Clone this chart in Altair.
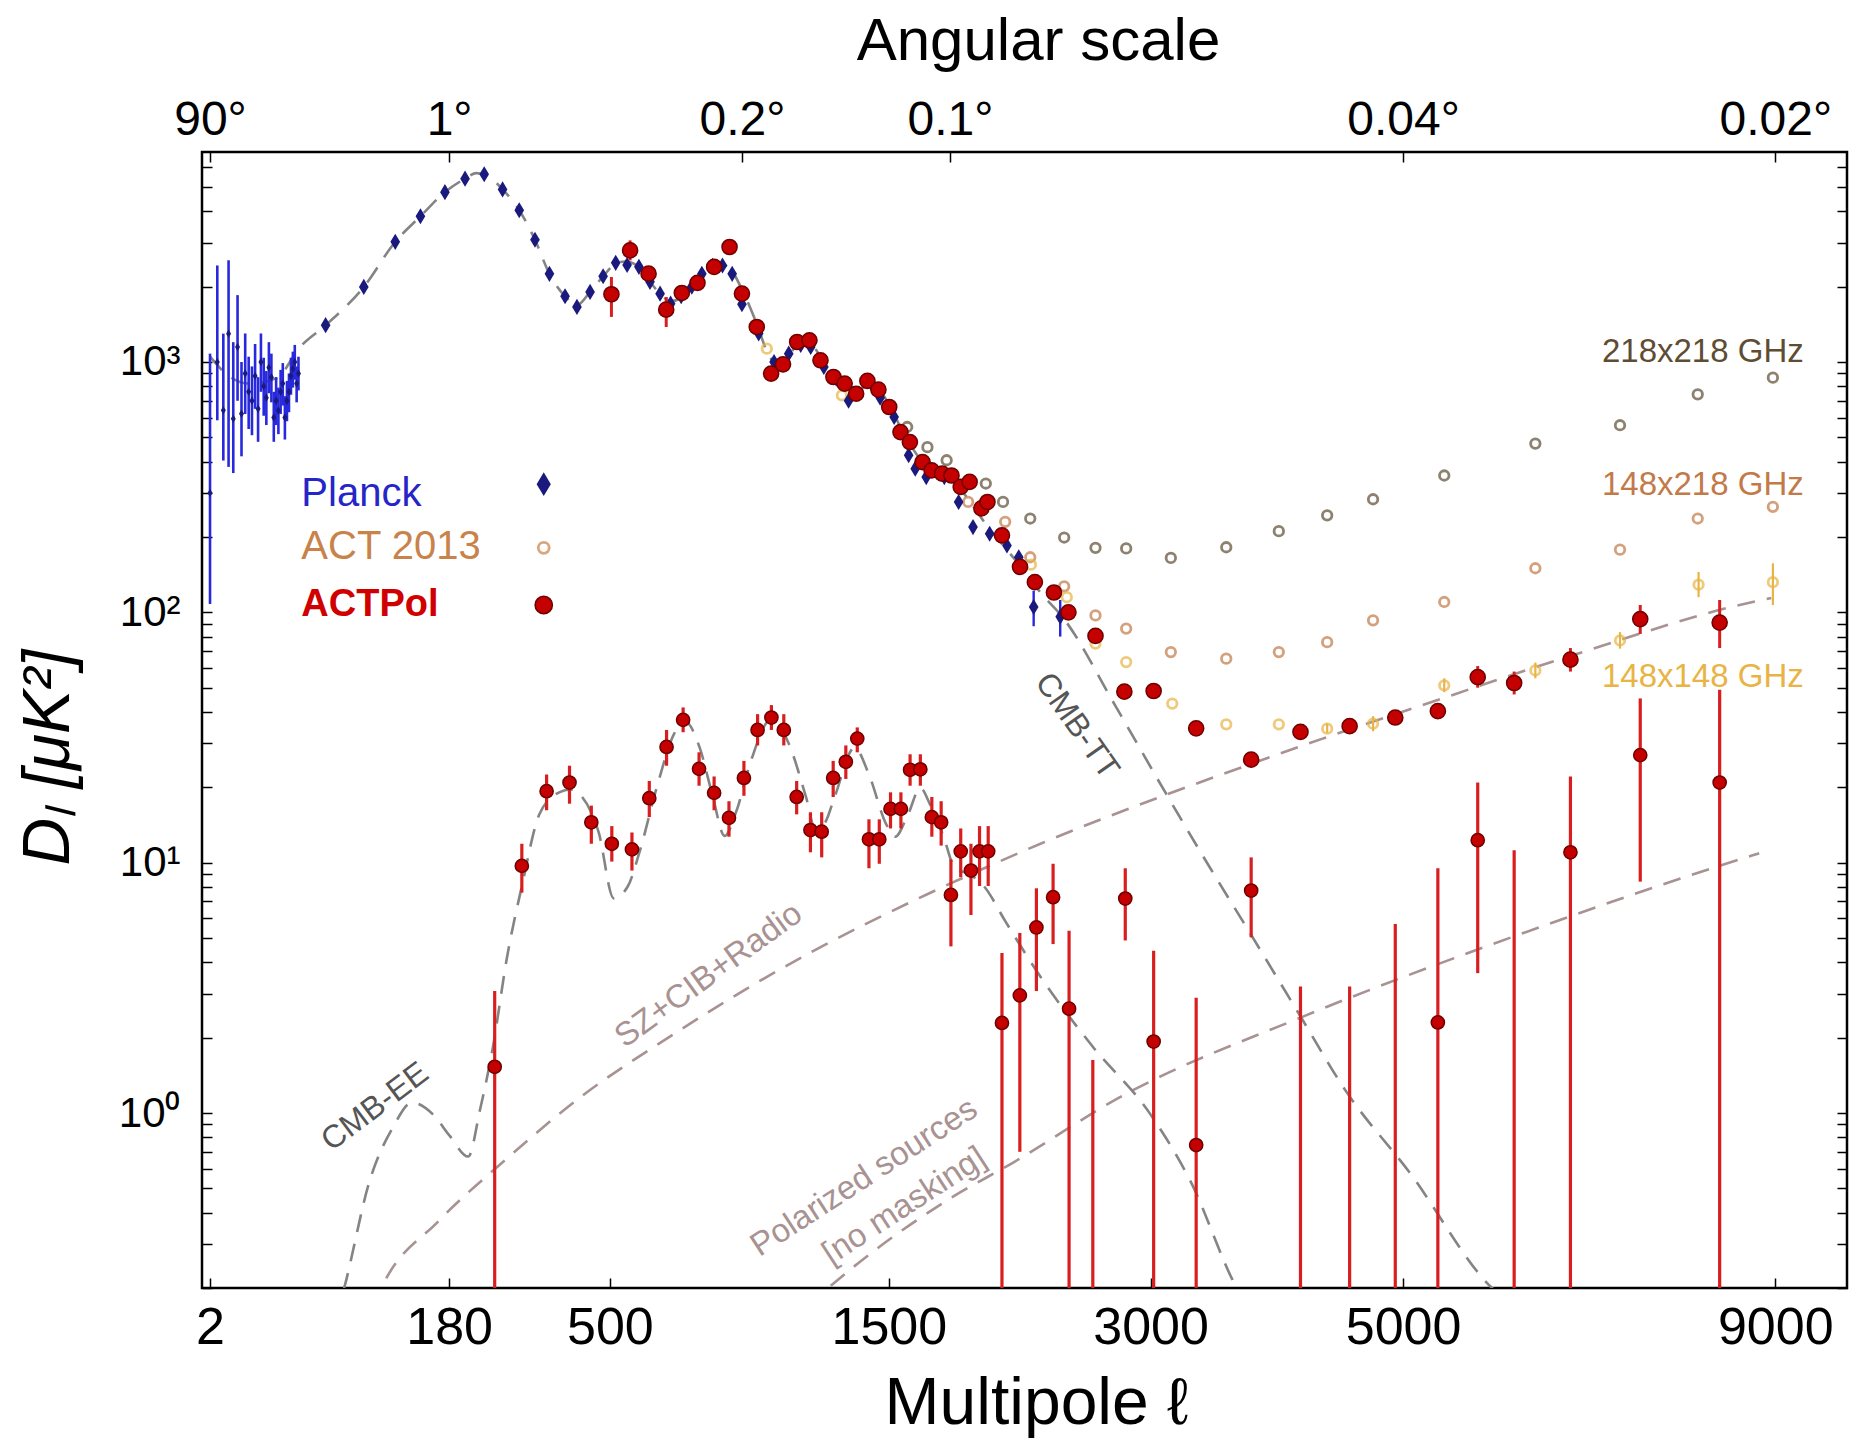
import altair as alt
import pandas as pd

# ---------------- data ----------------
# Planck unbinned low-ell TT
planck_low_ell = list(range(2, 32))
planck_low_D = [300, 1000, 641, 1298, 594, 1148, 621, 900, 760, 700, 880, 650, 1000, 800, 720,
                950, 870, 600, 700, 640, 760, 820, 600, 700, 760, 880, 940, 1000, 820, 900]
planck_low_lo = [108, 585, 404, 381, 360, 700, 420, 620, 540, 510, 650, 480, 760, 610, 560,
                 750, 690, 480, 560, 515, 620, 670, 490, 580, 630, 740, 790, 850, 690, 770]
planck_low_hi = [1080, 2430, 1298, 2549, 1200, 1850, 1000, 1300, 1050, 960, 1180, 870, 1300, 1040, 920,
                 1200, 1080, 760, 870, 790, 930, 990, 730, 840, 900, 1040, 1100, 1170, 960, 1050]

# Planck binned TT
planck_ell = [48, 79, 111, 141, 174, 204, 235, 267, 298, 329, 359, 393, 420, 451, 483, 515, 545, 577, 608, 637,
              668, 700, 733, 765, 800, 833, 866, 900, 960, 1017, 1073, 1120, 1160, 1214, 1266, 1319, 1364, 1420,
              1460, 1525, 1594, 1626, 1680, 1771, 1845, 1921, 2011, 2107, 2174, 2260, 2418]
planck_D = [1403, 1995, 3020, 3820, 4770, 5400, 5620, 4890, 4040, 3080, 2250, 1830, 1660, 1905, 2200, 2490, 2440,
            2400, 2090, 1875, 1710, 1830, 2000, 2250, 2420, 2430, 2250, 1700, 1300, 1000, 1080, 1170, 1148, 955,
            858, 700, 747, 820, 720, 603, 424, 375, 347, 347, 276, 219, 206, 185, 166, 105, 96]
planck_err_ell = [2260, 2418]
planck_err_lo = [88, 80]
planck_err_hi = [122, 112]

# ACT 2013 spectra
act218_ell = [1587, 1686, 1783, 1990, 2085, 2240, 2442, 2637, 2836, 3140, 3541, 3946, 4340, 4733, 5380, 6275,
              7175, 8060, 8970]
act218_D = [550, 457, 405, 327, 276, 237, 199, 181, 180, 165, 182, 211, 244, 283, 352, 472, 559, 743, 866]
act148x218_ell = [1895, 2097, 2240, 2442, 2637, 2836, 3140, 3541, 3946, 4340, 4733, 5380, 6275, 7175, 8060, 8970]
act148x218_D = [276, 230, 166, 127, 97.2, 86.1, 69.4, 65.3, 69.4, 76.0, 92.9, 110, 150, 178, 237, 264]
act148_ell = [990, 1290, 2244, 2458, 2637, 2836, 3150, 3541, 3946, 4340, 4733, 5380, 6275, 7175, 8070, 8970]
act148_D = [1130, 736, 155, 115, 75, 63.3, 43.2, 35.7, 35.7, 34.3, 35.9, 51.1, 58.6, 77.2, 129, 132]
act148_lo = [1130, 736, 155, 115, 75, 63.3, 43.2, 35.7, 35.7, 33, 33.5, 48, 54.5, 71.6, 115, 107]
act148_hi = [1130, 736, 155, 115, 75, 63.3, 43.2, 35.7, 35.7, 36, 38.5, 54.5, 63, 83.4, 145, 157]

# ACTPol TT
actpol_tt_ell = [504, 553, 604, 655, 702, 751, 805, 857, 900, 953, 1006, 1051, 1106, 1155, 1200, 1254, 1302, 1352,
                 1402, 1452, 1502, 1555, 1600, 1662, 1707, 1760, 1808, 1856, 1903, 1966, 1999, 2079, 2181, 2267,
                 2380, 2468, 2637, 2824, 3021, 3320, 3730, 4120, 4530, 4930, 5320, 5700, 6060, 6640, 7400, 8320]
actpol_tt_D = [1865, 2790, 2254, 1618, 1887, 2069, 2397, 2880, 1876, 1380, 899, 979, 1202, 1221, 1016, 871, 820,
               747, 840, 776, 661, 525, 479, 398, 369, 358, 352, 317, 332, 260, 276, 203, 152, 132, 120, 100, 80.5,
               48.2, 48.5, 34.4, 25.8, 33.3, 35.1, 38.0, 40.3, 55.1, 52.2, 64.7, 94, 91]
actpol_tt_lo = [1514, 2547, 2140, 1380, 1790, 1970, 2290, 2750, 1790, 1310, 850, 930, 1150, 1170, 970, 830, 780,
                710, 800, 740, 630, 500, 455, 378, 350, 340, 334, 300, 315, 247, 262, 193, 144, 125, 114, 95, 76,
                45.5, 45.8, 32.3, 24.2, 31.2, 32.8, 35.6, 37.6, 50, 47, 58, 82, 72]
actpol_tt_hi = [2185, 3060, 2370, 1818, 1990, 2170, 2510, 3010, 1960, 1450, 950, 1030, 1255, 1275, 1065, 912, 860,
                785, 880, 815, 692, 550, 503, 418, 388, 376, 370, 334, 349, 273, 290, 213, 160, 139, 126, 105, 85,
                51, 51.2, 36.6, 27.5, 35.5, 37.5, 40.5, 43.1, 61, 58, 72, 107, 112]

# ACTPol EE
actpol_ee_ell = [253, 303, 353, 403, 454, 505, 558, 606, 656, 706, 756, 805, 855, 907, 956, 1007, 1054, 1104, 1159,
                 1205, 1253, 1307, 1357, 1409, 1456, 1508, 1557, 1601, 1651, 1708, 1755, 1805, 1856, 1910, 1956,
                 2003, 2079, 2180, 2276, 2375, 2472, 2620, 2830, 3021, 3320, 3730, 4120, 4530, 4930, 5320, 5700,
                 6060, 6640, 7400, 8320]
actpol_ee_D = [1.53, 9.71, 19.3, 20.9, 14.5, 11.9, 11.3, 18.1, 29.0, 37.2, 23.7, 19.0, 15.1, 21.8, 33.9, 38.0, 33.9,
               18.3, 13.5, 13.3, 21.8, 25.3, 31.3, 12.4, 12.4, 16.4, 16.4, 23.5, 23.6, 15.2, 14.5, 7.43, 11.1, 9.3,
               11.1, 11.1, 2.29, 2.95, 5.51, 7.28, 2.61, None, 7.19, 1.93, 0.745, 7.74, None, None, None, 2.30,
               12.3, None, 11.0, 26.9, 20.9]
actpol_ee_lo = [0.05, 7.59, 16.2, 17.2, 11.9, 10.1, 9.3, 15.2, 24.4, 33.2, 20.3, 16.2, 12.7, 18.5, 29.4, 33.9, 29.4,
                15.6, 11.0, 10.5, 18.3, 21.6, 27.6, 9.5, 9.9, 13.7, 13.7, 20.3, 20.3, 12.7, 11.7, 4.63, 8.75, 6.18,
                8.07, 8.07, 0.05, 0.70, 3.07, 4.73, 0.05, 0.05, 4.89, 0.05, 0.05, 5.03, 0.05, 0.05, 0.05, 0.05,
                3.62, 0.05, 0.05, 8.4, 0.05]
actpol_ee_hi = [3.07, 11.9, 22.5, 24.4, 16.9, 14.0, 13.2, 21.2, 33.9, 41.7, 27.6, 22.1, 17.6, 25.5, 39.2, 42.6, 39.2,
                21.2, 15.9, 15.9, 25.5, 29.4, 34.7, 14.9, 14.9, 19.1, 19.1, 27.1, 27.1, 18.3, 17.6, 10.3, 13.7, 11.9,
                14.0, 14.0, 4.36, 5.24, 7.90, 9.90, 5.35, 1.63, 9.5, 4.45, 2.89, 10.5, 3.20, 3.20, 5.69, 9.5,
                20.9, 11.2, 22.1, 45.3, 49.1]

# model curves (knots)
tt_ell = [2, 5, 10, 20, 32, 48, 79, 111, 141, 174, 204, 222, 240, 267, 298, 329, 359, 393, 420, 451, 483, 515, 540,
          577, 608, 637, 668, 700, 750, 800, 830, 860, 900, 950, 1000, 1030, 1070, 1110, 1150, 1200, 1250, 1300,
          1350, 1400, 1440, 1500, 1550, 1600, 1650, 1700, 1760, 1820, 1870, 1930, 2000, 2100, 2200, 2300, 2436,
          2772, 3120, 3403, 3710, 4095, 4500, 5058, 5840, 6050]
tt_D = [1050, 880, 820, 860, 1150, 1403, 1995, 3020, 3820, 4770, 5400, 5680, 5550, 4890, 4040, 3080, 2250, 1830,
        1690, 1905, 2200, 2470, 2520, 2400, 2090, 1875, 1750, 1800, 2100, 2400, 2450, 2350, 1950, 1450, 1050, 980,
        1050, 1180, 1200, 1050, 880, 780, 760, 800, 790, 680, 560, 470, 410, 375, 350, 330, 300, 260, 220, 180,
        148, 120, 95, 41.6, 18.3, 9.9, 5.35, 2.55, 1.22, 0.58, 0.2, 0.17]
ee_ell = [55, 62, 84.5, 108.5, 130.5, 157, 181, 209, 228, 250, 275, 303, 338, 380, 405, 432, 472, 510, 547, 580,
          627, 678, 710, 758, 800, 840, 880, 932, 1007, 1073, 1141, 1180, 1220, 1259, 1345, 1409, 1487, 1530, 1590,
          1651, 1700, 1767, 1826, 1900, 1980, 2100, 2300, 2620, 2998, 3278, 3620, 3700]
ee_D = [0.15, 0.2, 0.536, 0.878, 1.10, 0.99, 0.81, 0.67, 1.03, 1.84, 4.18, 8.05, 15.6, 19.1, 19.6, 18.3, 13.2, 7.2,
        8.05, 11.2, 19.9, 32.6, 36.9, 28.8, 18.5, 12.8, 16.0, 25.5, 37.5, 29.9, 18.3, 13.5, 14.5, 18.3, 28.8, 22.5,
        14.3, 12.7, 15.5, 19.9, 17.0, 12.7, 9.5, 9.0, 8.05, 5.8, 3.5, 1.84, 0.99, 0.536, 0.2, 0.17]
fg_ell = [88, 96, 165, 265, 432, 661, 944, 1162, 1685, 2013, 2300, 3120, 3710, 4302, 5056, 6670, 8720, 8950]
fg_D = [0.17, 0.2, 0.37, 0.63, 1.17, 2.0, 3.27, 4.39, 7.48, 9.73, 11.9, 18.8, 24.6, 31.3, 40.9, 67.5, 110, 114]
pol_ell = [1150, 1232, 1800, 2135, 2810, 4160, 6090, 8720, 8800]
pol_D = [0.17, 0.2, 0.455, 0.63, 1.17, 2.45, 5.13, 10.7, 10.9]

# axis ticks and labels
bottom_ticks = [2, 180, 500, 1500, 3000, 5000, 9000]
top_ticks = [2, 180, 900, 1800, 5000, 9000]
top_labels = ['90°', '1°', '0.2°', '0.1°', '0.04°', '0.02°']
y_ticks = [0.2, 0.3, 0.4, 0.5, 0.6, 0.7, 0.8, 0.9, 1, 2, 3, 4, 5, 6, 7, 8, 9, 10, 20, 30, 40, 50, 60, 70, 80, 90,
           100, 200, 300, 400, 500, 600, 700, 800, 900, 1000, 2000, 3000, 4000, 5000, 6000]
y_major = [1, 10, 100, 1000]
y_major_labels = ['10⁰', '10¹', '10²', '10³']

# text annotations (position in data coordinates)
legend_names = ['Planck', 'ACT 2013', 'ACTPol']
legend_text_ell = [32.6, 32.6, 32.6]
legend_text_D = [296, 182, 106.6]
legend_sym_ell = 347
legend_sym_D = [325, 181, 107]
freq_labels = ['218x218 GHz', '148x218 GHz', '148x148 GHz']
freq_ell = [8120, 8120, 8120]
freq_D = [1092, 323, 55]

# ---------------- chart ----------------
W, H = 1645, 1136
FONT = 'Liberation Sans'
TICK = 10


def label_expr(values, labels):
    s = "''"
    for v, l in reversed(list(zip(values, labels))):
        s = f"datum.value == {v} ? '{l}' : ({s})"
    return s


xscale = alt.Scale(type='pow', exponent=0.45, domain=[1.15, 9920], nice=False, zero=False)
yscale = alt.Scale(type='log', domain=[0.2, 6900], nice=False)

common_axis = dict(offset=-TICK, tickSize=TICK, tickWidth=1.5, tickColor='black', domain=False, grid=False,
                   labelFont=FONT, labelColor='black', labelFlush=False, labelOverlap=False, labelBound=False,
                   titleFont=FONT, titleColor='black', titleFontWeight='normal')

bottom_axis = alt.Axis(orient='bottom', values=bottom_ticks, format='d', title='Multipole ℓ',
                       labelFontSize=52, labelPadding=14, titleFontSize=66, titlePadding=18, titleX=834,
                       **common_axis)
left_axis = alt.Axis(orient='left', values=y_ticks, labelExpr=label_expr(y_major, y_major_labels),
                     title='Dₗ [μK²]', titleFontStyle='italic', labelFontSize=42, labelPadding=22,
                     titleFontSize=66, titlePadding=36, titleY=605, **common_axis)
top_axis = alt.Axis(orient='top', values=top_ticks, labelExpr=label_expr(top_ticks, top_labels),
                    title='Angular scale', labelFontSize=48, labelPadding=8, titleFontSize=60,
                    titlePadding=24, titleX=836, **common_axis)
right_axis = alt.Axis(orient='right', values=y_ticks, labels=False, title='', **common_axis)


def X(field='ell'):
    return alt.X(f'{field}:Q', scale=xscale, axis=bottom_axis)


def Y(field='D'):
    return alt.Y(f'{field}:Q', scale=yscale, axis=left_axis)


def curve(ell, D, color):
    df = pd.DataFrame({'ell': ell, 'D': D})
    return alt.Chart(df).mark_line(color=color, strokeWidth=2.6, strokeDash=[18, 12], interpolate='monotone',
                                   clip=True).encode(x=X(), y=Y(), order='ell:Q')


def bars(ell, lo, hi, color, width):
    df = pd.DataFrame({'ell': ell, 'lo': lo, 'hi': hi})
    return alt.Chart(df).mark_rule(color=color, strokeWidth=width, clip=True).encode(
        x=X(), y=Y('lo'), y2='hi:Q')


def text(ell, D, t, color, size, angle=0, align='center', weight='normal', font=FONT):
    df = pd.DataFrame({'ell': ell, 'D': D, 't': t})
    return alt.Chart(df).mark_text(color=color, fontSize=size, angle=angle, align=align, baseline='middle',
                                   fontWeight=weight, font=font).encode(x=X(), y=Y(), text='t:N')


DIAMOND = 'M0,-1L0.6,0L0,1L-0.6,0Z'
NAVY = '#1a1a7e'
RED = '#c40000'
REDEDGE = '#6e0000'
C218 = '#5e4d33'
C148x218 = '#c27a48'
C148 = '#e8b445'
GRAY = '#848484'
ROSE = '#a89292'

layers = []
# model curves
layers.append(curve(fg_ell, fg_D, ROSE))
layers.append(curve(pol_ell, pol_D, ROSE))
layers.append(curve(ee_ell, ee_D, GRAY))
layers.append(curve(tt_ell, tt_D, GRAY))

# ACT 2013 open circles
for ell, D, c in [(act218_ell, act218_D, C218), (act148x218_ell, act148x218_D, C148x218)]:
    layers.append(alt.Chart(pd.DataFrame({'ell': ell, 'D': D})).mark_point(
        shape='circle', filled=False, color=c, strokeWidth=2.8, size=90, clip=True).encode(x=X(), y=Y()))
layers.append(bars(act148_ell, act148_lo, act148_hi, C148, 2.2))
layers.append(alt.Chart(pd.DataFrame({'ell': act148_ell, 'D': act148_D})).mark_point(
    shape='circle', filled=False, color=C148, strokeWidth=2.8, size=90, clip=True).encode(x=X(), y=Y()))

# Planck
layers.append(bars(planck_low_ell, planck_low_lo, planck_low_hi, '#2828dc', 2.6))
layers.append(alt.Chart(pd.DataFrame({'ell': planck_low_ell, 'D': planck_low_D})).mark_point(
    shape=DIAMOND, filled=True, color=NAVY, size=70, opacity=1).encode(x=X(), y=Y()))
layers.append(bars(planck_err_ell, planck_err_lo, planck_err_hi, '#2828dc', 2.4))
layers.append(alt.Chart(pd.DataFrame({'ell': planck_ell, 'D': planck_D})).mark_point(
    shape=DIAMOND, filled=True, color=NAVY, size=260, opacity=1).encode(x=X(), y=Y()))

# ACTPol
layers.append(bars(actpol_tt_ell, actpol_tt_lo, actpol_tt_hi, '#d81e1e', 3))
layers.append(alt.Chart(pd.DataFrame({'ell': actpol_tt_ell, 'D': actpol_tt_D})).mark_point(
    shape='circle', filled=True, fill=RED, stroke=REDEDGE, strokeWidth=1.5, size=230, opacity=1,
    clip=True).encode(x=X(), y=Y()))
layers.append(bars(actpol_ee_ell, actpol_ee_lo, actpol_ee_hi, '#d81e1e', 3.2))
layers.append(alt.Chart(pd.DataFrame({'ell': actpol_ee_ell, 'D': actpol_ee_D})).mark_point(
    shape='circle', filled=True, fill=RED, stroke=REDEDGE, strokeWidth=1.5, size=175, opacity=1,
    clip=True).encode(x=X(), y=Y()))

# legend
layers.append(text([legend_text_ell[0]], [legend_text_D[0]], [legend_names[0]], '#2525c8', 40, align='left'))
layers.append(text([legend_text_ell[1]], [legend_text_D[1]], [legend_names[1]], '#c8834a', 40, align='left'))
layers.append(text([legend_text_ell[2]], [legend_text_D[2]], [legend_names[2]], '#d00000', 38, align='left',
                   weight='bold'))
layers.append(alt.Chart(pd.DataFrame({'ell': [legend_sym_ell], 'D': [legend_sym_D[0]]})).mark_point(
    shape=DIAMOND, filled=True, color=NAVY, size=560, opacity=1).encode(x=X(), y=Y()))
layers.append(alt.Chart(pd.DataFrame({'ell': [legend_sym_ell], 'D': [legend_sym_D[1]]})).mark_point(
    shape='circle', filled=False, color='#c8834a', strokeWidth=2.8, size=120).encode(x=X(), y=Y()))
layers.append(alt.Chart(pd.DataFrame({'ell': [legend_sym_ell], 'D': [legend_sym_D[2]]})).mark_point(
    shape='circle', filled=True, fill=RED, stroke=REDEDGE, strokeWidth=1.5, size=300, opacity=1).encode(
    x=X(), y=Y()))

# frequency labels
for i, c in enumerate([C218, C148x218, C148]):
    layers.append(text([freq_ell[i]], [freq_D[i]], [freq_labels[i]], c, 33))

# curve labels
layers.append(text([2522], [35.2], ['CMB-TT'], '#555555', 32, angle=55))
layers.append(text([89.6], [1.06], ['CMB-EE'], '#555555', 32, angle=323))
layers.append(text([787], [3.55], ['SZ+CIB+Radio'], ROSE, 33, angle=324))
layers.append(text([1387], [0.553], ['Polarized sources'], ROSE, 33, angle=327))
layers.append(text([1573], [0.426], ['[no masking]'], ROSE, 33, angle=327))

main = alt.layer(*layers)

axes_layer = alt.Chart(pd.DataFrame({'ell': [2, 9000], 'D': [1, 1000]})).mark_point(opacity=0).encode(
    x=alt.X('ell:Q', scale=xscale, axis=top_axis),
    y=alt.Y('D:Q', scale=yscale, axis=right_axis))

chart = alt.layer(main, axes_layer).resolve_scale(x='independent', y='independent').properties(
    width=W, height=H,
    padding={'left': 202, 'top': 152, 'right': 6, 'bottom': 150},
    autosize=alt.AutoSizeParams(type='none'),
    background='white',
).configure_view(stroke='black', strokeWidth=2.5)

chart.save('out.html', embed_options={'renderer': 'svg', 'actions': False})
